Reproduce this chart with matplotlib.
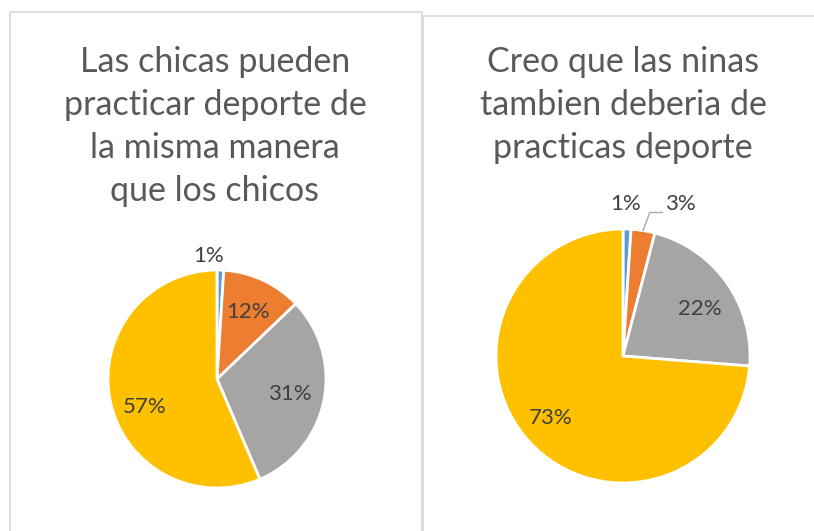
import numpy as np
import matplotlib
matplotlib.use('Agg')
import matplotlib.pyplot as plt
from matplotlib.patches import Rectangle

plt.rcParams['font.family'] = ['Lato', 'DejaVu Sans']

# Datos (porcentajes)
cats = ["Totalmente en desacuerdo", "En desacuerdo", "De acuerdo", "Totalmente de acuerdo"]
vals_izq = [1, 12, 31, 57]
vals_der = [1, 3, 22, 73]
titulo_izq = "Las chicas pueden\npracticar deporte de\nla misma manera\nque los chicos"
titulo_der = "Creo que las ninas\ntambien deberia de\npracticas deporte"

# Colores estilo Excel
COLS = ["#5B9BD5", "#ED7D31", "#A5A5A5", "#FFC000"]
TXT_TIT = "#595959"
TXT_LBL = "#404040"
BORDE = "#D9D9D9"

W, H = 814, 531
fig = plt.figure(figsize=(W / 100, H / 100), dpi=100)

# marcos de los dos graficos
fig.add_artist(Rectangle((10 / W, -0.1), 412 / W, 1.1 - 12.5 / H, transform=fig.transFigure,
                         fill=False, edgecolor=BORDE, linewidth=1.2))
fig.add_artist(Rectangle((423 / W, -0.1), 0.6, 1.1 - 16 / H, transform=fig.transFigure,
                         fill=False, edgecolor=BORDE, linewidth=1.2))


def pie_axes(cx, cy, r):
    return fig.add_axes([(cx - r) / W, 1 - (cy + r) / H, 2 * r / W, 2 * r / H])


def dibujar(ax, vals, ajustes):
    ax.pie(vals, colors=COLS, startangle=90, counterclock=False,
           wedgeprops=dict(edgecolor='white', linewidth=2))
    ax.set_xlim(-1, 1)
    ax.set_ylim(-1, 1)
    ax.set_aspect('equal')
    ax.set_axis_off()
    frac = np.array(vals) / sum(vals)
    ini = np.concatenate([[0], np.cumsum(frac)[:-1]])
    mid = (ini + frac / 2) * 360
    for v, a, (da, r) in zip(vals, mid, ajustes):
        t = np.deg2rad(a + da)
        ax.text(r * np.sin(t), r * np.cos(t), f"{v}%", ha='center', va='center',
                fontsize=16, color=TXT_LBL)
    return mid


# grafico izquierdo
ax1 = pie_axes(217, 379, 109)
dibujar(ax1, vals_izq, [(-5.5, 1.13), (0, 0.68), (0, 0.68), (-10, 0.71)])
fig.text(215 / W, 1 - 46 / H, titulo_izq, ha='center', va='top', fontsize=24.5,
         color=TXT_TIT, linespacing=1.42)

# grafico derecho
ax2 = pie_axes(623, 356, 127)
mid = dibujar(ax2, vals_der, [(-1, 1.2), (11.5, 1.28), (4, 0.71), (2.5, 0.75)])
# linea guia del 3%
t = np.deg2rad(mid[1])
ax2.plot([np.sin(t), 0.21, 0.31], [np.cos(t), 1.13, 1.13], color="#A6A6A6", lw=1,
         clip_on=False)
fig.text(623 / W, 1 - 46 / H, titulo_der, ha='center', va='top', fontsize=24.5,
         color=TXT_TIT, linespacing=1.42)

fig.savefig("out.png", dpi=100)
